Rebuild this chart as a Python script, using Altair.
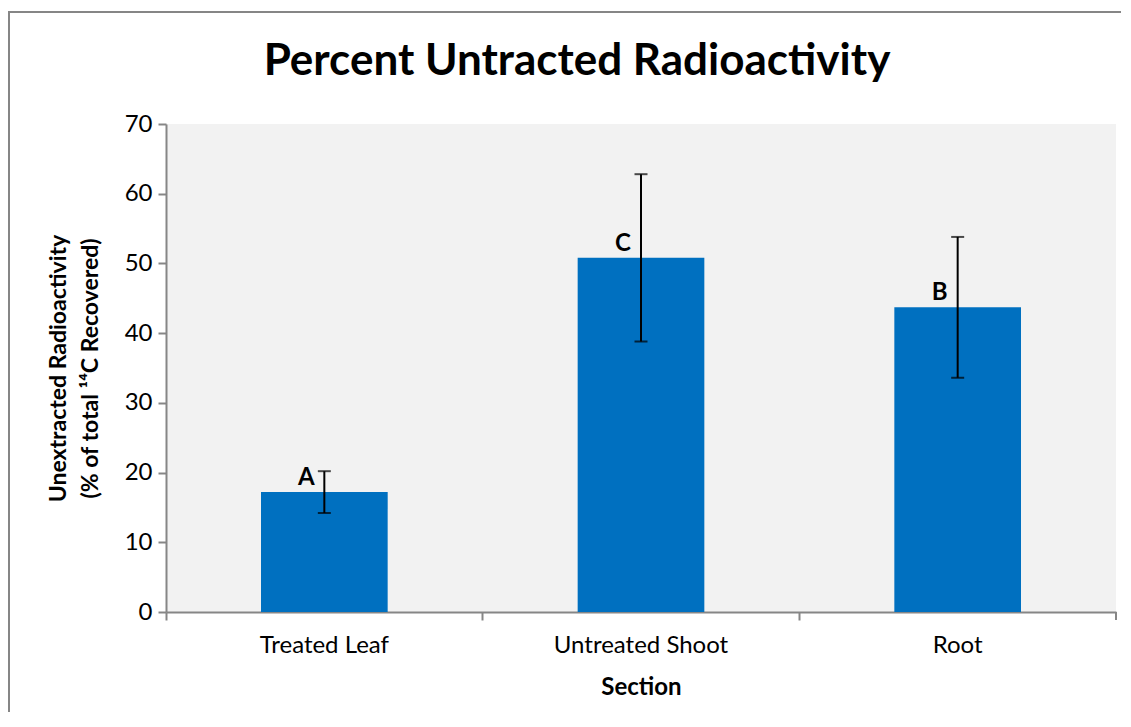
import altair as alt
import pandas as pd

sections = ["Treated Leaf", "Untreated Shoot", "Root"]
means = [17.2, 50.8, 43.7]
errors = [3.0, 12.0, 10.1]
letters = ["A", "C", "B"]

df = pd.DataFrame({
    "Section": sections,
    "mean": means,
    "lower": [m - e for m, e in zip(means, errors)],
    "upper": [m + e for m, e in zip(means, errors)],
    "letter": letters,
})

FONT = "Lato"
W, H = 950, 488

x = alt.X("Section:N", sort=sections,
          scale=alt.Scale(paddingInner=0, paddingOuter=0),
          axis=alt.Axis(title="Section", labelAngle=0, bandPosition=0,
                        labelFontSize=24, labelColor="#000000", labelFont=FONT,
                        labelPadding=13, titleFontSize=24, titleFont=FONT,
                        titleFontWeight="bold", titleColor="#000000", titlePadding=18,
                        tickSize=8, tickColor="#868686", tickWidth=2,
                        domainColor="#868686", domainWidth=2))

yscale = alt.Scale(domain=[0, 70], nice=False)

base = alt.Chart(df)

bars = base.mark_bar(color="#0070C0", width=alt.RelativeBandSize(0.4)).encode(
    x=x,
    y=alt.Y("mean:Q", scale=yscale,
            axis=alt.Axis(title=["Unextracted Radioactivity", "(% of total ¹⁴C  Recovered)"],
                          values=[0, 10, 20, 30, 40, 50, 60, 70], grid=False,
                          labelFontSize=24, labelColor="#000000", labelFont=FONT,
                          labelPadding=6, titleFontSize=23, titleFont=FONT,
                          titleFontWeight="bold", titleColor="#000000", titlePadding=22,
                          titleLineHeight=32,
                          tickSize=8, tickColor="#868686", tickWidth=2,
                          domainColor="#868686", domainWidth=2)),
)

rules = base.mark_rule(color="#000000", strokeWidth=2).encode(
    x=alt.X("Section:N", sort=sections), y="lower:Q", y2="upper:Q")
cap_lo = base.mark_tick(color="#000000", size=13, thickness=2).encode(
    x=alt.X("Section:N", sort=sections), y="lower:Q")
cap_hi = base.mark_tick(color="#000000", size=13, thickness=2).encode(
    x=alt.X("Section:N", sort=sections), y="upper:Q")

labels = base.mark_text(font=FONT, fontSize=24, fontWeight="bold", color="#000000",
                        dx=-18, dy=-2, baseline="bottom").encode(
    x=alt.X("Section:N", sort=sections), y="mean:Q", text="letter:N")

end_tick = alt.Chart(df).mark_rule(color="#868686", strokeWidth=2).encode(
    x=alt.value(W), y=alt.value(H), y2=alt.value(H + 8))

frame_top = alt.Chart(df).mark_rule(color="#868686", strokeWidth=2).encode(
    x=alt.value(-158), x2=alt.value(W + 100), y=alt.value(-112))
frame_left = alt.Chart(df).mark_rule(color="#868686", strokeWidth=2).encode(
    x=alt.value(-157), y=alt.value(-113), y2=alt.value(H + 200))

chart = alt.layer(bars, rules, cap_lo, cap_hi, labels, end_tick, frame_top, frame_left).properties(
    width=W, height=H,
    title=alt.TitleParams("Percent Untracted Radioactivity", fontSize=44, font=FONT,
                          fontWeight="bold", color="#000000", anchor="middle",
                          frame="group", baseline="alphabetic", dx=-64, offset=-109),
    autosize=alt.AutoSizeParams(type="none"),
    padding={"left": 158, "top": 116, "right": 5, "bottom": 100},
    background="white",
).configure_view(fill="#F2F2F2", stroke=None)

chart.save("out.html", embed_options={"renderer": "svg", "actions": False})
